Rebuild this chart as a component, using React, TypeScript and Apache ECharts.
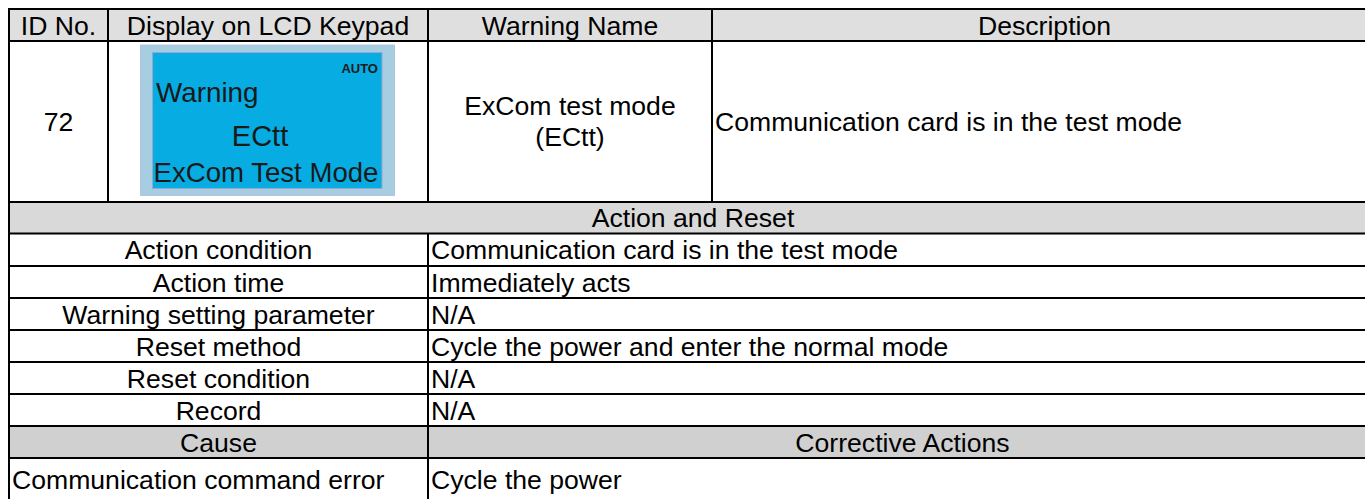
import React, { useEffect, useRef } from "react";
import * as echarts from "echarts";

const headerLabels = ["ID No.", "Display on LCD Keypad", "Warning Name", "Description"];
const idNo = "72";
const lcdLines = ["Warning", "ECtt", "ExCom Test Mode"];
const lcdMode = "AUTO";
const warningName = ["ExCom test mode", "(ECtt)"];
const description = "Communication card is in the test mode";
const sectionTitle = "Action and Reset";
const actionLabels = [
  "Action condition",
  "Action time",
  "Warning setting parameter",
  "Reset method",
  "Reset condition",
  "Record",
];
const actionValues = [
  "Communication card is in the test mode",
  "Immediately acts",
  "N/A",
  "Cycle the power and enter the normal mode",
  "N/A",
  "N/A",
];
const causeHeaders = ["Cause", "Corrective Actions"];
const causes = ["Communication command error"];
const corrective = ["Cycle the power"];

const FONT = "'Liberation Sans', Arial, sans-serif";
const FS = 26.6;

export default function App() {
  const ref = useRef<HTMLDivElement>(null);
  useEffect(() => {
    if (!ref.current) return;
    const chart = echarts.init(ref.current, null, { renderer: "svg" });

    const L = 9;
    const R = 1377;
    const colX = [9, 108, 428, 712, 1377];
    const splitX = 428;
    const yTop = 9;
    const yHead = 41;
    const yRow1 = 202;
    const yAction = 233.5;
    const rowYs = [233.5, 266, 298, 330, 362, 394, 426];
    const yCause = 458;
    const yBottom = 502;

    const els: any[] = [];
    const rect = (x: number, y: number, w: number, h: number, fill: string, stroke?: string, lw = 0) =>
      els.push({
        type: "rect",
        shape: { x, y, width: w, height: h },
        style: { fill, stroke: stroke || "none", lineWidth: lw },
        silent: true,
      });
    const line = (x1: number, y1: number, x2: number, y2: number) =>
      els.push({
        type: "line",
        shape: { x1, y1, x2, y2 },
        style: { stroke: "#000", lineWidth: 2 },
        silent: true,
      });
    const text = (
      t: string,
      x: number,
      y: number,
      align: string = "center",
      size = FS,
      color = "#000",
      weight: string = "normal"
    ) =>
      els.push({
        type: "text",
        x,
        y,
        style: {
          text: t,
          fontFamily: FONT,
          fontSize: size,
          fontWeight: weight,
          fill: color,
          align,
          verticalAlign: "middle",
        },
        silent: true,
      });

    // fills
    rect(0, 0, 1365, 499, "#ffffff");
    rect(L, yTop, R - L, yHead - yTop, "#dfdfdf");
    rect(L, yRow1, R - L, yAction - yRow1, "#d9d9d9");
    rect(L, rowYs[rowYs.length - 1], R - L, yCause - rowYs[rowYs.length - 1], "#d0d0d0");

    // LCD
    rect(140.5, 45, 254, 150.5, "#a6cde0", "#b4c3de", 1);
    rect(152.5, 52.5, 229.5, 136, "#06ace2", "#9aa6d2", 1);
    text(lcdMode, 378, 68, "right", 13, "#1a1a1a", "bold");
    text(lcdLines[0], 156, 92.5, "left", 27.8, "#1a1a1a");
    text(lcdLines[1], 260, 135.5, "center", 29, "#1a1a1a");
    text(lcdLines[2], 153.5, 172, "left", 27.6, "#1a1a1a");

    // horizontal lines
    [yTop, yHead, yRow1, ...rowYs, yCause].forEach((y) => line(L - 1, y, R, y));
    // vertical lines
    line(L, yTop - 1, L, yBottom);
    for (let i = 1; i < 4; i++) line(colX[i], yTop, colX[i], yRow1);
    line(splitX, yAction, splitX, yBottom);

    // header texts
    headerLabels.forEach((h, i) => text(h, (colX[i] + colX[i + 1]) / 2, (yTop + yHead) / 2 + 0.5));

    // row 1
    const r1c = (yHead + yRow1) / 2;
    text(idNo, (colX[0] + colX[1]) / 2, r1c);
    text(warningName[0], (colX[2] + colX[3]) / 2, r1c - 15.5);
    text(warningName[1], (colX[2] + colX[3]) / 2, r1c + 15.5);
    text(description, colX[3] + 3, r1c, "left");

    // section
    text(sectionTitle, (L + R) / 2, (yRow1 + yAction) / 2 + 0.5);
    actionLabels.forEach((lab, i) => {
      const cy = (rowYs[i] + rowYs[i + 1]) / 2 + 0.5;
      text(lab, (L + splitX) / 2, cy);
      text(actionValues[i], splitX + 3, cy, "left");
    });

    // cause
    const cyc = (rowYs[rowYs.length - 1] + yCause) / 2 + 0.5;
    text(causeHeaders[0], (L + splitX) / 2, cyc);
    text(causeHeaders[1], (splitX + R) / 2, cyc);
    causes.forEach((c, i) => {
      text(c, L + 3, 480, "left");
      text(corrective[i], splitX + 3, 480, "left");
    });

    chart.setOption({
      animation: false,
      graphic: { elements: els },
    });
    return () => chart.dispose();
  }, []);

  return (
    <div
      ref={ref}
      style={{ position: "fixed", left: 0, top: 0, width: 1365, height: 499, background: "#fff" }}
    />
  );
}
